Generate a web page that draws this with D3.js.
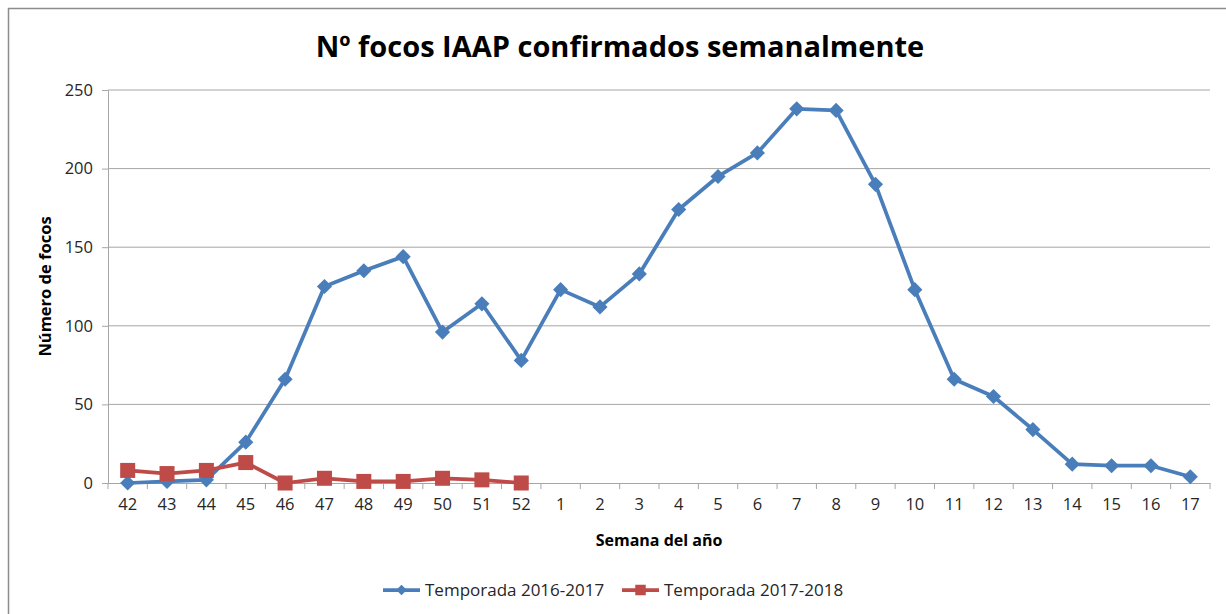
<!DOCTYPE html>
<head>
  <meta charset="utf-8">
  <script src="https://d3js.org/d3.v7.min.js"></script>
  <style>
  body { margin: 0; background: #fff; }
  text { font-family: "Open Sans", sans-serif; fill: #000; }
  .grid line { stroke: #a6a6a6; stroke-width: 1px; }
  .axis path, .axis line { stroke: #a6a6a6; stroke-width: 1px; }
  .axis text { font-size: 16.5px; fill: #262626; font-family: "Open Sans", sans-serif; }
</style>
</head>
<body>
<svg width="1226" height="614"></svg>

<script>
// weeks of the season, from week 42 to week 17 of the next year
var weeks = ["42","43","44","45","46","47","48","49","50","51","52",
             "1","2","3","4","5","6","7","8","9","10","11","12","13","14","15","16","17"];
var season1617 = [0,1,2,26,66,125,135,144,96,114,78,
                  123,112,133,174,195,210,238,237,190,123,66,55,34,12,11,11,4];
var season1718 = [8,6,8,13,0,3,1,1,3,2,0];
var yTicks = [0, 50, 100, 150, 200, 250];

var svg = d3.select("svg");
var margin = {left: 108, right: 16, top: 90, bottom: 131};
var width = 1226 - margin.left - margin.right,
    height = 614 - margin.top - margin.bottom;

// frame around the whole chart
svg.append("rect")
  .attr("x", 8.5).attr("y", 8.5)
  .attr("width", 1240).attr("height", 640)
  .attr("fill", "none").attr("stroke", "#8c8c8c").attr("stroke-width", 1.5);

var g = svg.append("g").attr("transform", "translate(" + margin.left + "," + margin.top + ")");

var x = d3.scaleBand().domain(weeks).range([0, width]);
var y = d3.scaleLinear().domain([0, 250]).range([height, 0]);

// horizontal gridlines
g.append("g").attr("class", "grid")
  .selectAll("line").data(yTicks.slice(1)).enter().append("line")
  .attr("x1", 0).attr("x2", width)
  .attr("y1", function(d) { return y(d); }).attr("y2", function(d) { return y(d); });

// y axis
var yAxis = g.append("g").attr("class", "axis")
  .call(d3.axisLeft(y).tickValues(yTicks).tickSize(6).tickSizeOuter(0).tickPadding(9));

// x axis, ticks between the categories like Excel does
var xAxis = g.append("g").attr("class", "axis")
  .attr("transform", "translate(0," + height + ")")
  .call(d3.axisBottom(x).tickSize(0).tickSizeOuter(0).tickPadding(15));
xAxis.selectAll(".tickmark").data(d3.range(weeks.length + 1)).enter().append("line")
  .attr("x1", function(i) { return i * x.step(); }).attr("x2", function(i) { return i * x.step(); })
  .attr("y1", 0).attr("y2", 6)
  .attr("stroke", "#a6a6a6");

var cx = function(d, i) { return x(weeks[i]) + x.bandwidth() / 2; };
var line = d3.line().x(cx).y(function(d) { return y(d); });

var blue = "#4a7ebb", red = "#be4b48";

g.append("path").datum(season1617)
  .attr("d", line).attr("fill", "none").attr("stroke", blue)
  .attr("stroke-width", 3.75).attr("stroke-linejoin", "round");
g.append("path").datum(season1718)
  .attr("d", line).attr("fill", "none").attr("stroke", red)
  .attr("stroke-width", 3.75).attr("stroke-linejoin", "round");

var diamond = d3.symbol().type(d3.symbolSquare).size(115);
g.selectAll(".dia").data(season1617).enter().append("path")
  .attr("d", diamond)
  .attr("transform", function(d, i) { return "translate(" + cx(d, i) + "," + y(d) + ") rotate(45)"; })
  .attr("fill", blue);

g.selectAll(".sq").data(season1718).enter().append("rect")
  .attr("x", function(d, i) { return cx(d, i) - 7.5; })
  .attr("y", function(d) { return y(d) - 7.5; })
  .attr("width", 15).attr("height", 15)
  .attr("fill", red);

// titles
svg.append("text")
  .attr("x", 620).attr("y", 57)
  .attr("text-anchor", "middle")
  .style("font-size", "29px").style("font-weight", "bold")
  .text("Nº focos IAAP confirmados semanalmente");

svg.append("text")
  .attr("x", margin.left + width / 2).attr("y", 546)
  .attr("text-anchor", "middle")
  .style("font-size", "16px").style("font-weight", "bold")
  .text("Semana del año");

svg.append("text")
  .attr("transform", "translate(51," + (margin.top + height / 2) + ") rotate(-90)")
  .attr("text-anchor", "middle")
  .style("font-size", "16.5px").style("font-weight", "bold")
  .text("Número de focos");

// legend
var legend = [
  {name: "Temporada 2016-2017", color: blue, x: 383, marker: "diamond"},
  {name: "Temporada 2017-2018", color: red, x: 622, marker: "square"}
];
var lg = svg.selectAll(".legend").data(legend).enter().append("g")
  .attr("transform", function(d) { return "translate(" + d.x + ",590)"; });
lg.append("line").attr("x1", 0).attr("x2", 37)
  .attr("stroke", function(d) { return d.color; }).attr("stroke-width", 3.75);
lg.append("path")
  .attr("d", function(d) { return d3.symbol().type(d3.symbolSquare).size(d.marker == "diamond" ? 55 : 110)(); })
  .attr("transform", function(d) { return "translate(18.5,0)" + (d.marker == "diamond" ? " rotate(45)" : ""); })
  .attr("fill", function(d) { return d.color; });
lg.append("text").attr("x", 42).attr("y", 6)
  .style("font-size", "17px").style("fill", "#262626")
  .text(function(d) { return d.name; });
</script>
</body>
</html>
